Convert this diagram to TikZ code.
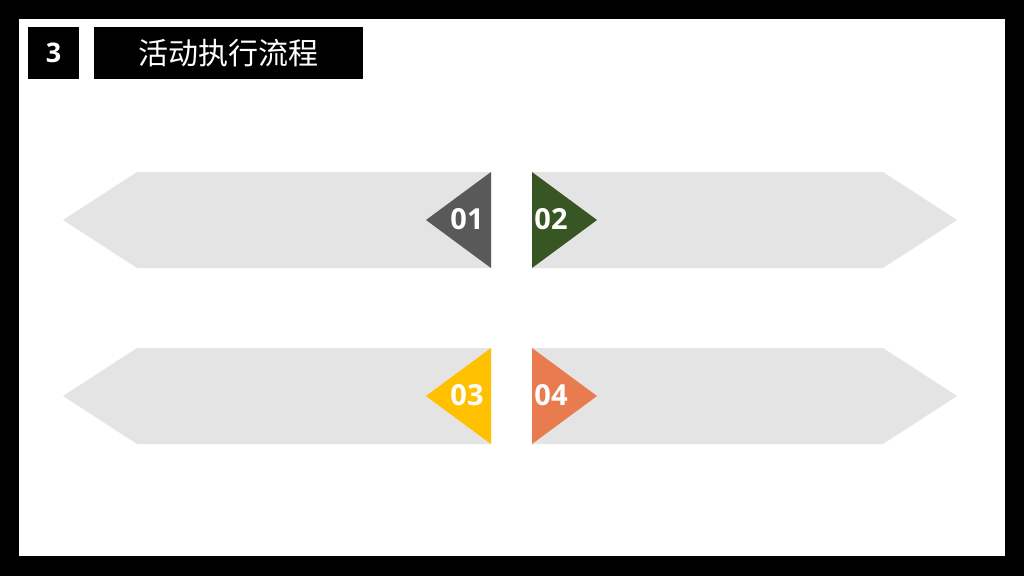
\documentclass[tikz,border=0pt]{standalone}
\usepackage{fontspec}
\usepackage{xcolor}
\setmainfont{Open Sans}
\newfontfamily\cjk{Noto Sans CJK SC}
\usetikzlibrary{positioning}
\definecolor{bandgrey}{HTML}{E4E4E4}
\definecolor{stepA}{HTML}{595959}
\definecolor{stepB}{HTML}{375623}
\definecolor{stepC}{HTML}{FFC000}
\definecolor{stepD}{HTML}{E97C4E}
\tikzset{num/.style={text=white, font=\fontsize{29}{30}\selectfont\bfseries, inner sep=0pt}}
\begin{document}
\begin{tikzpicture}[x=1pt, y=-1pt]
        \useasboundingbox (0, 0) rectangle (1024, 576);
        \fill [black] (0, 0) rectangle (1024, 576);
        \fill [white] (19, 19) rectangle (1005, 556);
        \node [fill=black, minimum width=51pt, minimum height=52pt, inner sep=0pt, text=white, font=\fontsize{27}{28}\selectfont\bfseries] (sec) at (53.5, 53) { 3 };
        \node [fill=black, minimum width=269pt, minimum height=52pt, inner sep=0pt, text=white, font=\cjk\fontsize{30}{31}\selectfont] (title) at (228.5, 53) { 活动执行流程 };
        \fill [bandgrey] (63, 220) -- (137, 172) -- (491, 172) -- (491, 268) -- (137, 268) -- cycle;
        \fill [bandgrey] (532, 172) -- (883, 172) -- (957, 220) -- (883, 268) -- (532, 268) -- cycle;
        \fill [bandgrey] (63, 396) -- (137, 348) -- (491, 348) -- (491, 444) -- (137, 444) -- cycle;
        \fill [bandgrey] (532, 348) -- (883, 348) -- (957, 396) -- (883, 444) -- (532, 444) -- cycle;
        \fill [stepA] (426, 220) -- (491, 172) -- (491, 268) -- cycle;
        \fill [stepB] (532, 172) -- (597, 220) -- (532, 268) -- cycle;
        \fill [stepC] (426, 396) -- (491, 348) -- (491, 444) -- cycle;
        \fill [stepD] (532, 348) -- (597, 396) -- (532, 444) -- cycle;
        \node [num] (n1) at (467, 219) { 01 };
        \node [num] (n2) at (551, 219) { 02 };
        \node [num] (n3) at (467, 395) { 03 };
        \node [num] (n4) at (551, 395) { 04 };
    \end{tikzpicture}
\end{document}
